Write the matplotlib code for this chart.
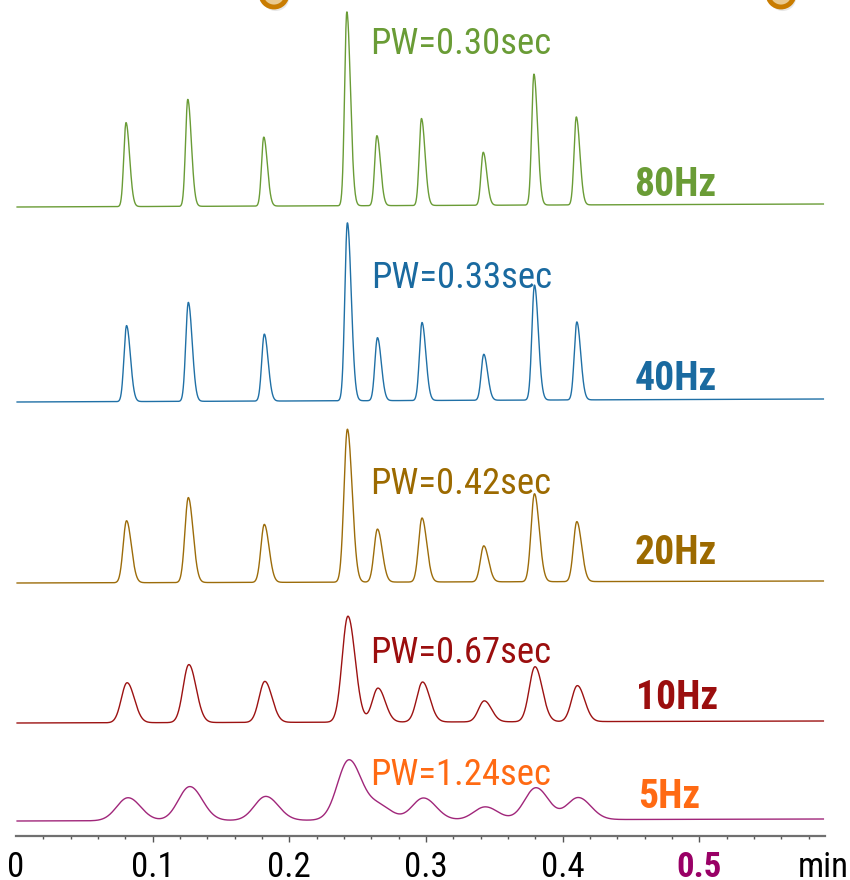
import numpy as np
import matplotlib
matplotlib.use("Agg")
import matplotlib.pyplot as plt
from matplotlib.patches import Ellipse

# Peak retention times (min), shared by all acquisitions
retention_min = [0.0805, 0.1257, 0.1813, 0.2421, 0.2641, 0.2967, 0.3419, 0.3790, 0.4100]

# Acquisition rates, labels and peak widths (PW, seconds at half height)
rate_labels = ["80Hz", "40Hz", "20Hz", "10Hz", "5Hz"]
pw_sec = [0.30, 0.33, 0.42, 0.67, 1.24]

# Peak heights (signal units) for each rate
heights_80hz = [84, 107, 69, 194, 70, 87, 53, 131, 88]
heights_40hz = [76, 99, 67, 178, 63, 78, 46, 115, 78]
heights_20hz = [62, 85, 58, 153, 53, 64, 36, 88, 60]
heights_10hz = [40, 58, 41, 106, 34, 40, 21, 55, 36]
heights_5hz = [23, 34, 24, 60, 14, 22, 13, 32, 22]
heights = [heights_80hz, heights_40hz, heights_20hz, heights_10hz, heights_5hz]

# Detector delay of the slower sampling rates (min)
delay_min = [0.0, 0.0004, 0.0004, 0.0008, 0.0015]

# Baseline level at start and end of each trace (stacked offsets)
baseline_start = [629, 434, 253, 113, 15]
baseline_end = [632, 437, 255, 115, 17]

# Tailing factor (right/left half-width ratio)
tailing = [1.6, 1.5, 1.4, 1.25, 1.1]

trace_colors = ["#6a9c36", "#2070a6", "#9c6c0a", "#9c1212", "#a0267a"]
label_colors = ["#6a9c36", "#1a6aa0", "#9c6a00", "#9b0e0e", "#ff6a13"]

# Label anchors: PW text (left x in min, baseline y) and rate text
pw_pos = [(0.2588, 782), (0.2602, 548), (0.2588, 342), (0.2588, 173), (0.2588, 51)]
rate_pos = [(0.4525, 640), (0.4525, 446), (0.4525, 272), (0.4535, 127), (0.4550, 28)]

tick_values = [0, 0.1, 0.2, 0.3, 0.4, 0.5]
tick_texts = ["0", "0.1", "0.2", "0.3", "0.4", "0.5"]

plt.rcParams["font.family"] = ["Roboto Condensed", "Archivo Narrow", "PT Sans Narrow", "DejaVu Sans"]

W, H = 850, 880
fig = plt.figure(figsize=(W / 100, H / 100), dpi=100)
ax = fig.add_axes([16 / W, 44 / H, 809 / W, 836 / H])
ax.set_xlim(0, 0.592)
ax.set_ylim(0, 836)


def peak(t, center, height, fwhm, ratio):
    sl = fwhm / (1.1774 * (1 + ratio))
    sr = ratio * sl
    s = np.where(t < center, sl, sr)
    return height * np.exp(-0.5 * ((t - center) / s) ** 2)


t = np.linspace(0.0008, 0.5908, 3000)
for i in range(len(rate_labels)):
    fwhm = pw_sec[i] / 60.0
    y = np.interp(t, [t[0], t[-1]], [baseline_start[i], baseline_end[i]])
    for rt, h in zip(retention_min, heights[i]):
        y = y + peak(t, rt + delay_min[i], h, fwhm, tailing[i])
    ax.plot(t, y, color=trace_colors[i], lw=1.0)
    ax.text(pw_pos[i][0], pw_pos[i][1], f"PW={pw_sec[i]:.2f}sec",
            color=label_colors[i], fontsize=26.5, ha="left", va="baseline")
    ax.text(rate_pos[i][0], rate_pos[i][1], rate_labels[i],
            color=label_colors[i], fontsize=28.5, fontweight="bold",
            ha="left", va="baseline")

for side in ["top", "right", "left"]:
    ax.spines[side].set_visible(False)
ax.spines["bottom"].set_color("#707070")
ax.spines["bottom"].set_linewidth(1.6)
ax.set_yticks([])
ax.set_xticks(tick_values)
ax.set_xticklabels(tick_texts)
ax.set_xticks(np.arange(0.02, 0.59, 0.02), minor=True)
ax.tick_params(axis="x", which="major", length=4.5, width=1.0, color="#555555",
               labelsize=25, pad=6, labelcolor="black")
ax.tick_params(axis="x", which="minor", length=2.5, width=1.0, color="#555555")
ax.xaxis.get_major_ticks()[0].tick1line.set_visible(False)
for lab in ax.get_xticklabels():
    if lab.get_text() == "0.5":
        lab.set_color("#990066")
        lab.set_fontweight("bold")
ax.annotate("min", xy=(0.5717, 0), xytext=(0, -11), textcoords="offset points",
            fontsize=25, ha="left", va="top")

# Decorative bullets clipped at the top edge
for cx in [274, 781]:
    fig.add_artist(Ellipse((cx / W + 0.002, 1 + 6 / H - 0.004), 27 / W, 27 / H,
                           transform=fig.transFigure, facecolor="#d8d8d8",
                           edgecolor="none", alpha=0.6, clip_on=False))
    fig.add_artist(Ellipse((cx / W, 1 + 6 / H), 26 / W, 26 / H,
                           transform=fig.transFigure, facecolor="#e9c98f",
                           edgecolor="#c97c00", lw=3.5, clip_on=False))

fig.savefig("out.png", dpi=100)
